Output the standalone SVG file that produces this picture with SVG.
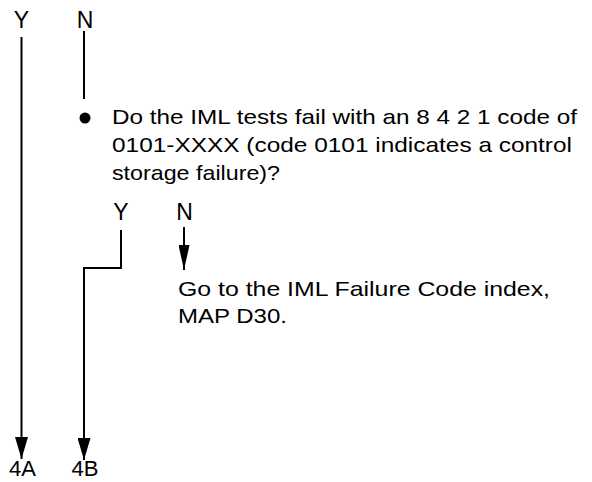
<svg xmlns="http://www.w3.org/2000/svg" width="592" height="482" viewBox="0 0 592 482">
  <style>
    text { font-family: "Liberation Sans", Arial, sans-serif; font-size: 21px; fill: #000; }
    .mid { text-anchor: middle; }
    .lbl { font-size: 23px; }
    .ln { fill: none; stroke: #000; stroke-width: 2; }
  </style>
  <defs>
    <marker id="ah" markerUnits="userSpaceOnUse" markerWidth="22" markerHeight="13" refX="22" refY="6.5" orient="auto" viewBox="0 0 22 13">
      <path d="M0,0 L22,6.5 L0,13 Z" fill="#000"/>
    </marker>
    <marker id="ahs" markerUnits="userSpaceOnUse" markerWidth="25" markerHeight="11" refX="25" refY="5.5" orient="auto" viewBox="0 0 25 11">
      <path d="M0,0 L25,5.5 L0,11 Z" fill="#000"/>
    </marker>
  </defs>

  <g id="top-labels">
    <text class="mid lbl" x="21.5" y="28">Y</text>
    <text class="mid lbl" x="85" y="28">N</text>
  </g>

  <g id="question">
    <circle cx="85" cy="118" r="5.5" fill="#000"/>
    <text x="112" y="123.5" textLength="465" lengthAdjust="spacingAndGlyphs">Do the IML tests fail with an 8 4 2 1 code of</text>
    <text x="112" y="151.5" textLength="460" lengthAdjust="spacingAndGlyphs">0101-XXXX (code 0101 indicates a control</text>
    <text x="112" y="179.5" textLength="168" lengthAdjust="spacingAndGlyphs">storage failure)?</text>
    <text class="mid lbl" x="121" y="220">Y</text>
    <text class="mid lbl" x="184.5" y="220">N</text>
  </g>

  <g id="action">
    <text x="178" y="296" textLength="372" lengthAdjust="spacingAndGlyphs">Go to the IML Failure Code index,</text>
    <text x="178" y="323" textLength="109" lengthAdjust="spacingAndGlyphs">MAP D30.</text>
  </g>

  <g id="offpage">
    <text class="mid" x="22.5" y="476" style="font-size:22px">4A</text>
    <text class="mid" x="85" y="476" style="font-size:22px">4B</text>
  </g>

  <g id="connectors">
    <line class="ln" x1="84" y1="31" x2="84" y2="99"/>
    <line class="ln" x1="21.5" y1="37" x2="21.5" y2="459" marker-end="url(#ah)"/>
    <polyline class="ln" points="121,230 121,268 84,268 84,460" marker-end="url(#ah)"/>
    <line class="ln" x1="184" y1="227" x2="184" y2="270" marker-end="url(#ahs)"/>
  </g>
</svg>
